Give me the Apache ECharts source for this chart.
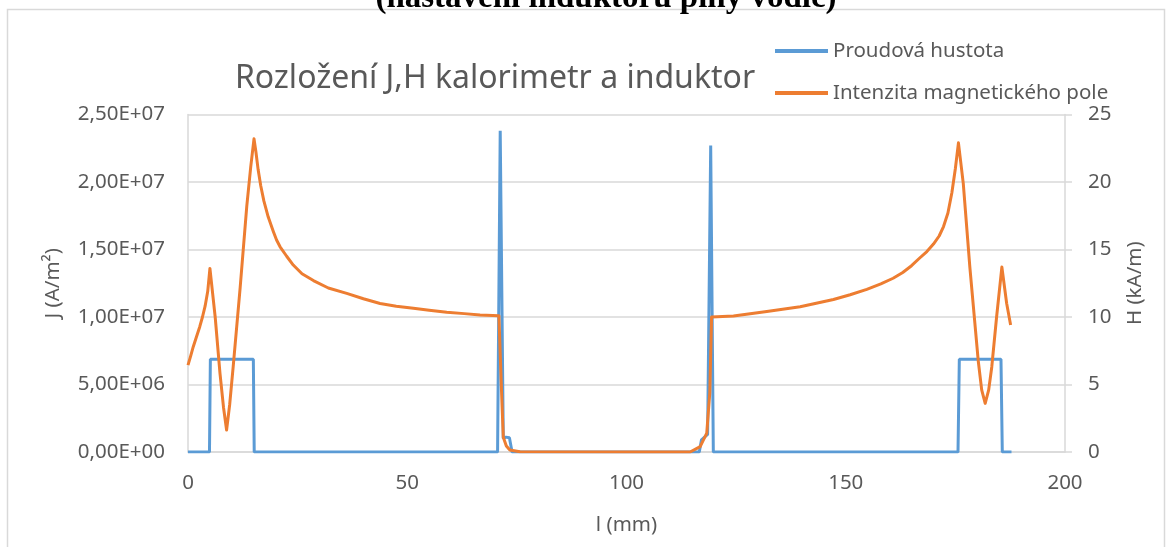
<!DOCTYPE html>
<html>
<head>
<meta charset="utf-8">
<script src="https://cdn.jsdelivr.net/npm/echarts@6/dist/echarts.min.js"></script>
<style>
html,body{margin:0;padding:0;background:#fff;}
#chart{width:1169px;height:547px;}
</style>
</head>
<body>
<div id="chart"></div>
<script>
// ---- data ----
const pageHeading = '(nastavení induktoru plný vodič)';
const chartTitle = 'Rozložení J,H kalorimetr a induktor';
const seriesNames = ['Proudová hustota', 'Intenzita magnetického pole'];
const xName = 'l (mm)';
const yLeftName = 'J (A/m²)';
const yRightName = 'H (kA/m)';
const leftTickLabels = ['0,00E+00', '5,00E+06', '1,00E+07', '1,50E+07', '2,00E+07', '2,50E+07'];
const rightTickLabels = ['0', '5', '10', '15', '20', '25'];

// current density J (A/m^2) vs length l (mm)
const jLen = [0, 4.9, 5.1, 14.9, 15.1, 70.6, 71.2, 71.9, 72.5, 73.3, 73.9, 116.6, 117.1, 117.8, 118.5, 119.2, 119.8, 175.6, 175.9, 185.4, 185.7, 187.8];
const jVal = [0, 0, 6.87e6, 6.87e6, 0, 0, 2.38e7, 1.0e6, 1.1e6, 1.05e6, 0, 0, 0.9e6, 1.1e6, 1.3e6, 2.27e7, 0, 0, 6.87e6, 6.87e6, 0, 0];

// magnetic field intensity H (kA/m) vs length l (mm)
const hLen = [0, 0.6, 1.2, 1.9, 2.7, 3.3, 3.9, 4.5, 5.0, 6.2, 7.3, 8.1, 8.8, 9.5, 10.3, 11.9, 13.4, 14.3, 15.05, 15.5, 16.0, 16.6, 17.3, 18.3, 19.5, 20.2, 21.0, 22.5, 24.0, 26.0, 28.6, 32.0, 36.2, 40.0, 43.8, 47.5, 51.4, 55.0, 59.0, 63.0, 66.6, 70.9, 71.5, 71.9, 72.6, 73.4, 75.7, 100.0, 114.5, 116.8, 118.3, 119.0, 119.4, 124.4, 132.0, 139.6, 147.2, 151.0, 154.8, 158.0, 160.8, 163.0, 165.0, 166.8, 168.5, 170.0, 171.3, 172.3, 173.3, 174.2, 175.0, 175.7, 176.8, 178.3, 180.2, 181.0, 181.8, 182.6, 183.3, 184.4, 185.6, 186.7, 187.6];
const hVal = [6.44, 7.1, 7.8, 8.5, 9.3, 10.0, 10.8, 11.9, 13.6, 10.0, 5.8, 3.3, 1.63, 3.5, 6.3, 12.2, 18.2, 21.1, 23.2, 22.2, 20.9, 19.7, 18.6, 17.4, 16.3, 15.7, 15.2, 14.5, 13.85, 13.2, 12.7, 12.15, 11.75, 11.35, 11.0, 10.8, 10.65, 10.5, 10.35, 10.25, 10.15, 10.1, 4.5, 1.1, 0.45, 0.15, 0.02, 0.0, 0.0, 0.4, 1.4, 4.4, 10.0, 10.07, 10.4, 10.76, 11.3, 11.65, 12.05, 12.45, 12.87, 13.3, 13.8, 14.35, 14.85, 15.4, 16.0, 16.7, 17.7, 19.2, 21.0, 22.9, 19.9, 13.7, 6.8, 4.6, 3.6, 4.6, 6.3, 10.0, 13.7, 11.0, 9.4];

const jData = jLen.map((x, i) => [x, jVal[i]]);
const hData = hLen.map((x, i) => [x, hVal[i]]);

const textColor = '#595959';
const gridColor = '#d9d9d9';
const font = 'Noto Sans';
const fs = 20.5;

const chart = echarts.init(document.getElementById('chart'), null, {renderer: 'canvas'});
chart.setOption({
  backgroundColor: '#ffffff',
  animation: false,
  title: {
    text: chartTitle,
    left: 490, top: 58, textAlign: 'center',
    textStyle: {color: textColor, fontFamily: font, fontSize: 32, fontWeight: 'normal'}
  },
  legend: {
    orient: 'vertical',
    left: 770, top: 34,
    itemWidth: 53, itemHeight: 4, itemGap: 18,
    icon: 'rect',
    textStyle: {color: textColor, fontFamily: font, fontSize: fs, lineHeight: 24},
    data: seriesNames
  },
  graphic: [
    {type: 'rect', shape: {x: 7.5, y: 9.5, width: 1157, height: 560},
     style: {fill: 'none', stroke: gridColor, lineWidth: 1.5}, silent: true, z: -1},
    {type: 'text', x: 606, y: 15,
     style: {text: pageHeading, fill: '#000', font: 'bold 33px "Liberation Serif"', textAlign: 'center', textVerticalAlign: 'bottom'}}
  ],
  grid: {left: 188, right: 104, top: 114.5, bottom: 95, containLabel: false},
  xAxis: {
    type: 'value', min: 0, max: 200, interval: 50,
    name: xName, nameLocation: 'middle', nameGap: 63,
    nameTextStyle: {color: textColor, fontFamily: font, fontSize: fs},
    axisLine: {show: true, lineStyle: {color: gridColor, width: 1.5}},
    axisTick: {show: false},
    splitLine: {show: false},
    axisLabel: {color: textColor, fontFamily: font, fontSize: fs, margin: 21}
  },
  yAxis: [
    {
      type: 'value', min: 0, max: 2.5e7, interval: 5e6, position: 'left',
      name: yLeftName, nameLocation: 'middle', nameGap: 124, nameRotate: 90,
      nameTextStyle: {color: textColor, fontFamily: font, fontSize: fs},
      axisLine: {show: true, lineStyle: {color: gridColor, width: 1.5}},
      axisTick: {show: false},
      splitLine: {show: true, lineStyle: {color: gridColor, width: 1.5}},
      axisLabel: {color: textColor, fontFamily: font, fontSize: fs, margin: 23,
        formatter: (v) => leftTickLabels[Math.round(v / 5e6)]}
    },
    {
      type: 'value', min: 0, max: 25, interval: 5, position: 'right',
      name: yRightName, nameLocation: 'middle', nameGap: 60, nameRotate: 90,
      nameTextStyle: {color: textColor, fontFamily: font, fontSize: fs},
      axisLine: {show: true, lineStyle: {color: gridColor, width: 1.5}},
      axisTick: {show: true, inside: false, length: 7, lineStyle: {color: gridColor, width: 1.5}},
      splitLine: {show: false},
      axisLabel: {color: textColor, fontFamily: font, fontSize: fs, margin: 23,
        formatter: (v) => rightTickLabels[Math.round(v / 5)]}
    }
  ],
  series: [
    {name: seriesNames[0], type: 'line', yAxisIndex: 0, data: jData, showSymbol: false,
     lineStyle: {color: '#5b9bd5', width: 3}, itemStyle: {color: '#5b9bd5'}},
    {name: seriesNames[1], type: 'line', yAxisIndex: 1, data: hData, showSymbol: false,
     lineStyle: {color: '#ed7d31', width: 3, join: 'round'}, itemStyle: {color: '#ed7d31'}}
  ]
});
</script>
</body>
</html>
